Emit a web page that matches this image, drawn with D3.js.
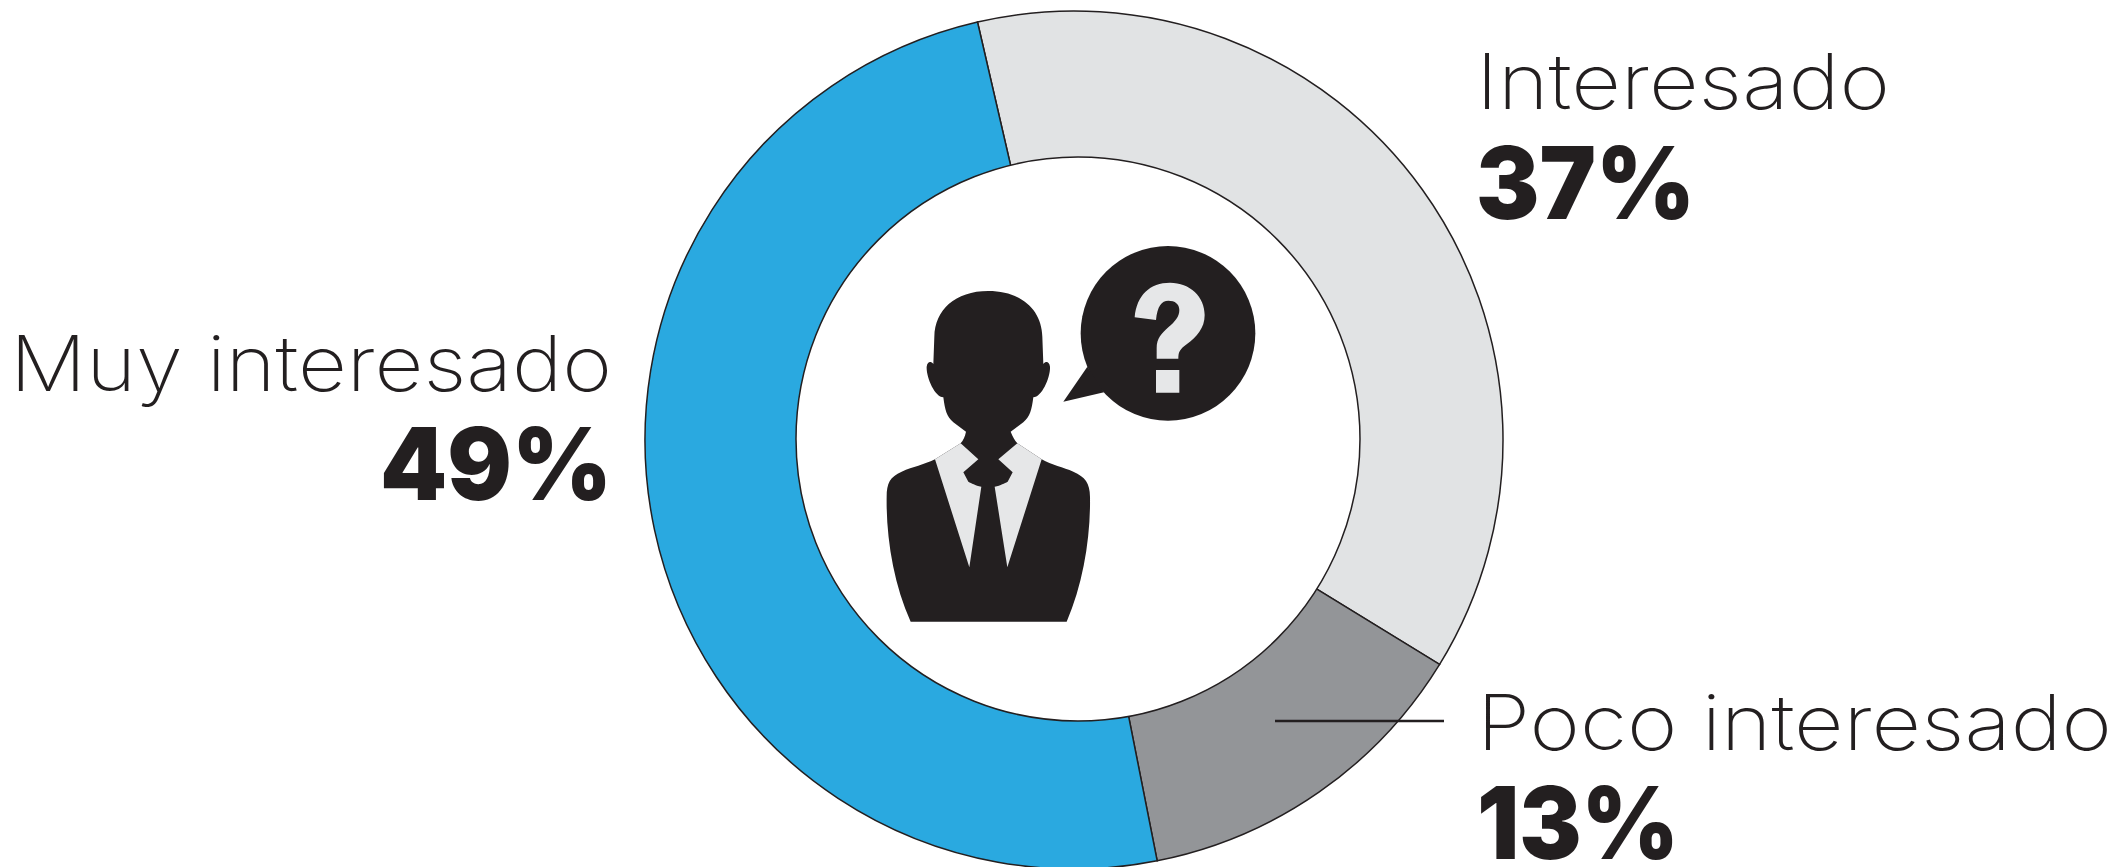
<!DOCTYPE html>
<head>
  <script src="https://cdnjs.cloudflare.com/ajax/libs/d3/7.8.5/d3.min.js"></script>
  <style>body { margin: 0; background: #fff }</style>
</head>

<body>
  <div id="chart"></div>

  <script>
    const categories = ['Interesado', 'Poco interesado', 'Muy interesado'];
    const values = [37, 13, 49];
    const sliceColors = ['#E1E3E4', '#939598', '#2AA9E0'];

    const width = 2116;
    const height = 867;
    const DARK = '#231F20';
    const LIGHT = '#E6E7E8';

    const svg = d3.select('#chart').append('svg')
      .attr('width', width)
      .attr('height', height)
      .style('display', 'block');

    const pie = d3.pie()
      .sort(null)
      .startAngle(-13 * Math.PI / 180)
      .endAngle((360 - 13) * Math.PI / 180);

    const arc = d3.arc().innerRadius(0).outerRadius(429);

    svg.append('g')
      .attr('transform', 'translate(1074,440)')
      .selectAll('path')
      .data(pie(values))
      .join('path')
      .attr('d', arc)
      .attr('fill', (d, i) => sliceColors[i])
      .attr('stroke', DARK)
      .attr('stroke-width', 1.5);

    // the hole sits a little off centre in the original
    svg.append('circle')
      .attr('cx', 1078).attr('cy', 439).attr('r', 282)
      .attr('fill', '#fff')
      .attr('stroke', DARK)
      .attr('stroke-width', 1.5);

    // leader for the small slice
    svg.append('line')
      .attr('x1', 1275).attr('x2', 1444)
      .attr('y1', 721).attr('y2', 721)
      .attr('stroke', DARK)
      .attr('stroke-width', 2.5);

    // labels: name line and value line for each slice
    const labelSpots = [
      { x: 1476, anchor: 'start', nameY: 109, nameW: 414, valueY: 219, valueW: 219 },
      { x: 1477, anchor: 'start', nameY: 750, nameW: 635, valueY: 859, valueW: 202 },
      { x: 612, anchor: 'end', nameY: 391, nameW: 602, valueY: 500, valueW: 232 }
    ];

    const labels = svg.append('g')
      .selectAll('g')
      .data(categories)
      .join('g')
      .attr('fill', DARK)
      .attr('text-anchor', (d, i) => labelSpots[i].anchor);

    labels.append('text')
      .attr('x', (d, i) => labelSpots[i].x)
      .attr('y', (d, i) => labelSpots[i].nameY)
      .attr('textLength', (d, i) => labelSpots[i].nameW)
      .attr('lengthAdjust', 'spacingAndGlyphs')
      .style('font', '200 77px Inter, Lato, sans-serif')
      .text(d => d);

    labels.append('text')
      .attr('x', (d, i) => labelSpots[i].x)
      .attr('y', (d, i) => labelSpots[i].valueY)
      .attr('textLength', (d, i) => labelSpots[i].valueW)
      .attr('lengthAdjust', 'spacingAndGlyphs')
      .style('font', '900 100px Inter, Lato, sans-serif')
      .text((d, i) => values[i] + '%');

    // person with speech bubble, traced at 3x from the picture
    const icon = svg.append('g')
      .attr('transform', 'translate(840,220) scale(0.33333)');

    icon.append('path')
      .attr('fill', DARK)
      .attr('d', 'M445 213 C345 213 285 270 283 350 L280 432 C272 422 262 425 260 440 C258 470 284 532 310 532 C315 570 320 590 340 607 L378 635 C375 650 370 660 362 670 L285 718 C250 735 220 740 185 755 C150 770 140 790 140 830 C138 950 160 1090 212 1205 L680 1205 C730 1090 752 950 750 830 C750 790 735 770 700 755 C670 742 635 735 605 718 L532 670 C524 660 518 650 512 635 L550 607 C570 590 575 570 580 532 C606 532 632 470 630 440 C628 425 618 422 610 432 L607 350 C605 270 545 213 445 213 Z');

    icon.append('path')
      .attr('fill', LIGHT)
      .attr('d', 'M362 670 L285 718 L388 1042 L424 800 C405 796 395 790 385 785 L370 757 L415 718 Z');

    icon.append('path')
      .attr('fill', LIGHT)
      .attr('d', 'M532 670 L605 718 L502 1042 L464 800 C483 796 493 790 503 785 L518 757 L475 718 Z');

    icon.append('circle')
      .attr('cx', 984).attr('cy', 340).attr('r', 262)
      .attr('fill', DARK);

    icon.append('path')
      .attr('fill', DARK)
      .attr('d', 'M742 440 L670 545 L792 517 Z');

    icon.append('path')
      .attr('fill', LIGHT)
      .attr('d', 'M884 292 C890 225 930 188 990 188 C1050 188 1094 230 1094 285 C1094 325 1070 350 1040 373 C1020 388 1015 395 1015 416 L950 416 L950 385 C950 355 965 340 985 322 C1005 305 1018 290 1018 270 C1018 252 1005 242 985 242 C965 242 952 258 948 300 Z M948 450 L1018 450 L1018 518 L948 518 Z');
  </script>
</body>
